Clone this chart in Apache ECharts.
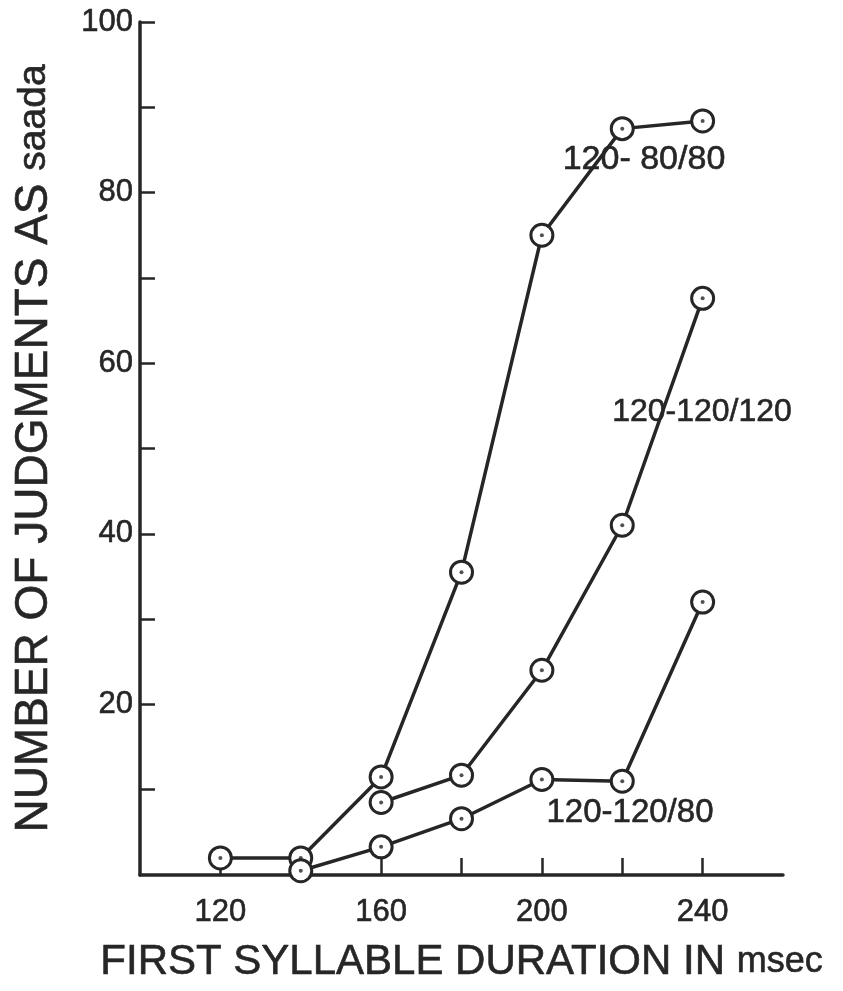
<!DOCTYPE html>
<html>
<head>
<meta charset="utf-8">
<script src="https://cdn.jsdelivr.net/npm/echarts@6/dist/echarts.min.js"></script>
<style>
  html, body { margin: 0; padding: 0; background: #ffffff; }
  #chart { width: 843px; height: 991px; }
</style>
</head>
<body>
<div id="chart"></div>
<script>
// First syllable duration (msec) on the x axis
const durations = [120, 140, 160, 180, 200, 220, 240];

// Number of judgments as "saada" for each stimulus condition (null = not measured)
const cond8080 = [2, 2, 11.5, 35.5, 75, 87.5, 88.4];
const cond120120 = [null, null, 8.5, 11.7, 24, 41, 67.6];
const cond12080 = [null, 0.5, 3.3, 6.6, 11.2, 11, 32];

const conditionNames = ['120- 80/80', '120-120/120', '120-120/80'];

// Axis ticks and labels
const xTickValues = [120, 140, 160, 180, 200, 220, 240];
const xLabelValues = [120, 160, 200, 240];
const yTickValues = [10, 20, 30, 40, 50, 60, 70, 80, 90, 100];
const yLabelValues = [20, 40, 60, 80, 100];

const INK = '#262626';
const FONT = '"Liberation Sans", Arial, sans-serif';

function pairs(values) {
  const out = [];
  values.forEach((v, i) => { if (v !== null) out.push([durations[i], v]); });
  return out;
}

const allConditions = [cond8080, cond120120, cond12080];

const lineSeries = allConditions.map((vals, k) => ({
  name: conditionNames[k],
  type: 'line',
  data: pairs(vals),
  symbol: 'circle',
  symbolSize: 22,
  lineStyle: { color: INK, width: 3.5 },
  itemStyle: { color: '#ffffff', borderColor: INK, borderWidth: 3 },
  emphasis: { disabled: true },
  z: 3
}));

// small centre dot inside every ring marker
const dotSeries = allConditions.map((vals, k) => ({
  name: conditionNames[k] + ' dot',
  type: 'scatter',
  data: pairs(vals),
  symbol: 'circle',
  symbolSize: 4,
  itemStyle: { color: INK },
  emphasis: { disabled: true },
  z: 4
}));

// heavier lettering, like pen-drawn text
const inkText = { color: INK, fontFamily: FONT, textBorderColor: INK, textBorderWidth: 0.6 };

const chart = echarts.init(document.getElementById('chart'), null, { renderer: 'canvas' });

chart.setOption({
  backgroundColor: '#ffffff',
  animation: false,
  grid: { left: 140, right: 60, top: 22, bottom: 116, containLabel: false },
  xAxis: {
    type: 'value',
    min: 100,
    max: 260,
    interval: 20,
    axisLine: { show: true, lineStyle: { color: INK, width: 3.5 } },
    axisTick: {
      show: true, inside: true, length: 17,
      customValues: xTickValues,
      lineStyle: { color: INK, width: 2.5 }
    },
    axisLabel: Object.assign({
      show: true, margin: 22,
      customValues: xLabelValues,
      fontSize: 31
    }, inkText),
    splitLine: { show: false },
    name: '{a|FIRST SYLLABLE DURATION IN\u00A0}{b|msec}',
    nameLocation: 'middle',
    nameGap: 66,
    nameTextStyle: {
      rich: {
        a: Object.assign({ fontSize: 42 }, inkText),
        b: Object.assign({ fontSize: 36 }, inkText)
      }
    }
  },
  yAxis: {
    type: 'value',
    min: 0,
    max: 100,
    interval: 10,
    axisLine: { show: true, lineStyle: { color: INK, width: 3.5 } },
    axisTick: {
      show: true, inside: true, length: 15,
      customValues: yTickValues,
      lineStyle: { color: INK, width: 2.5 }
    },
    axisLabel: Object.assign({
      show: true, margin: 7,
      customValues: yLabelValues,
      fontSize: 31
    }, inkText),
    splitLine: { show: false },
    name: '{a|NUMBER OF JUDGMENTS AS\u00A0}{b|saada}',
    nameLocation: 'middle',
    nameGap: 83,
    nameTextStyle: {
      rich: {
        a: Object.assign({ fontSize: 46 }, inkText),
        b: Object.assign({ fontSize: 39 }, inkText)
      }
    }
  },
  series: lineSeries.concat(dotSeries),
  graphic: [
    { type: 'text', x: 644, y: 160, style: { text: conditionNames[0], fill: INK, stroke: INK, lineWidth: 0.6, font: '34px ' + FONT, align: 'center', verticalAlign: 'middle' } },
    { type: 'text', x: 702, y: 412, style: { text: conditionNames[1], fill: INK, stroke: INK, lineWidth: 0.6, font: '32px ' + FONT, align: 'center', verticalAlign: 'middle' } },
    { type: 'text', x: 630, y: 813, style: { text: conditionNames[2], fill: INK, stroke: INK, lineWidth: 0.6, font: '33px ' + FONT, align: 'center', verticalAlign: 'middle' } }
  ]
});
</script>
</body>
</html>
